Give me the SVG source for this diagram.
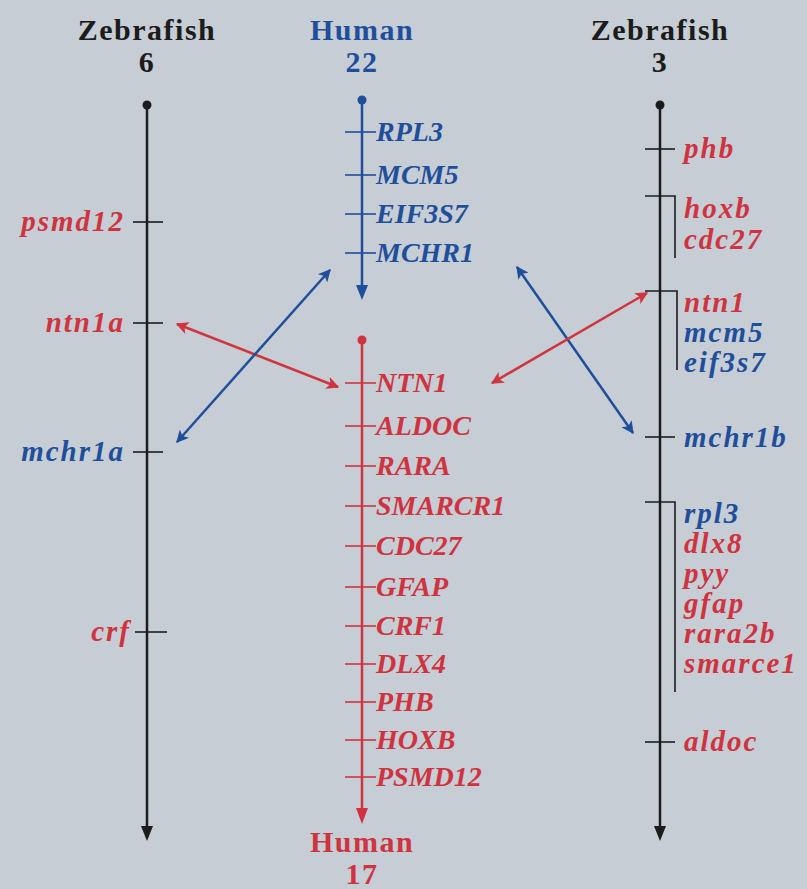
<svg xmlns="http://www.w3.org/2000/svg" width="807" height="889" viewBox="0 0 807 889">
<style>
.bg{fill:#c6cdd4}
.hd{font-family:"Liberation Serif",serif;font-weight:bold;font-size:30px;letter-spacing:1.5px;text-anchor:middle}
.g{font-family:"Liberation Serif",serif;font-weight:bold;font-style:italic;font-size:28px}
.gs{font-family:"Liberation Serif",serif;font-weight:bold;font-style:italic;font-size:29px;letter-spacing:2px}
.k{fill:#1c1c1c}.b{fill:#1f4f9b}.r{fill:#cf3340}
.ax{stroke-width:2.5;fill:none}
.tk{stroke-width:1.6;fill:none}
.sk{stroke:#1c1c1c}.sb{stroke:#1f4f9b}.sr{stroke:#d0343f}
.arr{stroke-width:2.5;fill:none}
</style>
<defs>
<marker id="hb" viewBox="0 0 10 10" refX="9" refY="5" markerWidth="6" markerHeight="5" markerUnits="strokeWidth" orient="auto-start-reverse"><path d="M0,0 L10,5 L0,10 L2.5,5 Z" fill="#1f4f9b"/></marker>
<marker id="hr" viewBox="0 0 10 10" refX="9" refY="5" markerWidth="6" markerHeight="5" markerUnits="strokeWidth" orient="auto-start-reverse"><path d="M0,0 L10,5 L0,10 L2.5,5 Z" fill="#d0343f"/></marker>
</defs>
<rect class="bg" x="0" y="0" width="807" height="889"/>

<g id="zebrafish6">
<text class="hd k" x="147" y="40">Zebrafish</text>
<text class="hd k" x="147" y="72">6</text>
<circle cx="147" cy="105" r="4.5" class="k"/>
<line class="ax sk" x1="147" y1="105" x2="147" y2="828"/>
<path d="M141,826 L153,826 L147,841 Z" class="k"/>
<line class="tk sk" x1="133" y1="222" x2="163" y2="222"/>
<line class="tk sk" x1="133" y1="323" x2="163" y2="323"/>
<line class="tk sk" x1="133" y1="452" x2="163" y2="452"/>
<line class="tk sk" x1="135" y1="632" x2="167" y2="632"/>
<text class="gs r" x="125" y="231" text-anchor="end">psmd12</text>
<text class="gs r" x="125" y="332" text-anchor="end">ntn1a</text>
<text class="gs b" x="125" y="461" text-anchor="end">mchr1a</text>
<text class="gs r" x="131" y="641" text-anchor="end">crf</text>
</g>

<g id="human22">
<text class="hd b" x="362" y="40">Human</text>
<text class="hd b" x="362" y="72">22</text>
<circle cx="362" cy="100" r="4.5" class="b"/>
<line class="ax sb" x1="362" y1="100" x2="362" y2="287"/>
<path d="M356,285 L368,285 L362,300 Z" class="b"/>
<line class="tk sb" x1="345" y1="132" x2="376" y2="132"/>
<line class="tk sb" x1="345" y1="175" x2="376" y2="175"/>
<line class="tk sb" x1="345" y1="214" x2="376" y2="214"/>
<line class="tk sb" x1="345" y1="253" x2="376" y2="253"/>
<text class="g b" x="376" y="141">RPL3</text>
<text class="g b" x="376" y="184">MCM5</text>
<text class="g b" x="376" y="223">EIF3S7</text>
<text class="g b" x="376" y="262">MCHR1</text>
</g>

<g id="human17">
<circle cx="362" cy="340" r="4.5" class="r"/>
<line class="ax sr" x1="362" y1="340" x2="362" y2="810"/>
<path d="M356,808 L368,808 L362,824 Z" class="r"/>
<line class="tk sr" x1="345" y1="383" x2="376" y2="383"/>
<line class="tk sr" x1="345" y1="426" x2="376" y2="426"/>
<line class="tk sr" x1="345" y1="466" x2="376" y2="466"/>
<line class="tk sr" x1="345" y1="506" x2="376" y2="506"/>
<line class="tk sr" x1="345" y1="546" x2="376" y2="546"/>
<line class="tk sr" x1="345" y1="587" x2="376" y2="587"/>
<line class="tk sr" x1="345" y1="626" x2="376" y2="626"/>
<line class="tk sr" x1="345" y1="664" x2="376" y2="664"/>
<line class="tk sr" x1="345" y1="702" x2="376" y2="702"/>
<line class="tk sr" x1="345" y1="740" x2="376" y2="740"/>
<line class="tk sr" x1="345" y1="777" x2="376" y2="777"/>
<text class="g r" x="376" y="392">NTN1</text>
<text class="g r" x="376" y="435">ALDOC</text>
<text class="g r" x="376" y="475">RARA</text>
<text class="g r" x="376" y="515">SMARCR1</text>
<text class="g r" x="376" y="555">CDC27</text>
<text class="g r" x="376" y="596">GFAP</text>
<text class="g r" x="376" y="635">CRF1</text>
<text class="g r" x="376" y="673">DLX4</text>
<text class="g r" x="376" y="711">PHB</text>
<text class="g r" x="376" y="749">HOXB</text>
<text class="g r" x="376" y="786">PSMD12</text>
<text class="hd r" x="362" y="852">Human</text>
<text class="hd r" x="362" y="884">17</text>
</g>

<g id="zebrafish3">
<text class="hd k" x="660" y="40">Zebrafish</text>
<text class="hd k" x="660" y="72">3</text>
<circle cx="660" cy="105" r="4.5" class="k"/>
<line class="ax sk" x1="660" y1="105" x2="660" y2="828"/>
<path d="M654,826 L666,826 L660,841 Z" class="k"/>
<line class="tk sk" x1="645" y1="149" x2="675" y2="149"/>
<path class="tk sk" d="M645,196 H675 V258"/>
<path class="tk sk" d="M645,291 H677 V370"/>
<line class="tk sk" x1="645" y1="437" x2="675" y2="437"/>
<path class="tk sk" d="M645,502 H675 V692"/>
<line class="tk sk" x1="645" y1="742" x2="675" y2="742"/>
<text class="gs r" x="684" y="158">phb</text>
<text class="gs r" x="684" y="218">hoxb</text>
<text class="gs r" x="684" y="249">cdc27</text>
<text class="gs r" x="684" y="312">ntn1</text>
<text class="gs b" x="684" y="342">mcm5</text>
<text class="gs b" x="684" y="372">eif3s7</text>
<text class="gs b" x="684" y="447">mchr1b</text>
<text class="gs b" x="684" y="523">rpl3</text>
<text class="gs r" x="684" y="553">dlx8</text>
<text class="gs r" x="684" y="583">pyy</text>
<text class="gs r" x="684" y="613">gfap</text>
<text class="gs r" x="684" y="643">rara2b</text>
<text class="gs r" x="684" y="673">smarce1</text>
<text class="gs r" x="684" y="751">aldoc</text>
</g>

<g id="connectors">
<line class="arr sr" x1="177" y1="324" x2="338" y2="387" marker-start="url(#hr)" marker-end="url(#hr)"/>
<line class="arr sb" x1="177" y1="442" x2="330" y2="270" marker-start="url(#hb)" marker-end="url(#hb)"/>
<line class="arr sb" x1="517" y1="267" x2="633" y2="433" marker-start="url(#hb)" marker-end="url(#hb)"/>
<line class="arr sr" x1="492" y1="383" x2="647" y2="293" marker-start="url(#hr)" marker-end="url(#hr)"/>
</g>
</svg>
